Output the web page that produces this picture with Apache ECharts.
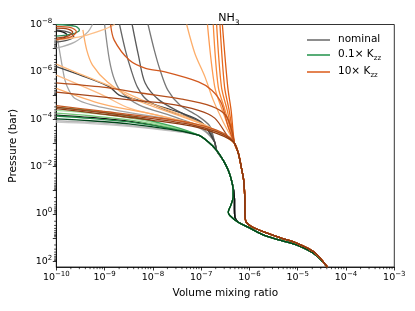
<!DOCTYPE html>
<html><head><meta charset="utf-8">
<script src="https://cdn.jsdelivr.net/npm/echarts@6/dist/echarts.min.js"></script>
<style>html,body{margin:0;padding:0;background:#fff}#c{width:415px;height:311px}</style>
</head><body><div id="c"></div>
<script>
// ---- axis ranges / ticks ----
const xMin = 1e-10, xMax = 1e-3;
const yMin = 1e-8, yMax = 170;
const xMajor = [1e-10,1e-9,1e-8,1e-7,1e-6,1e-5,1e-4,1e-3];
const yMajor = [1e-8,1e-7,1e-6,1e-5,1e-4,1e-3,1e-2,1e-1,1,10,100];
const yLabels = [1e-8,1e-6,1e-4,1e-2,1,100];
const minorSubs = [2,3,4,5,6,7,8,9];
const xDecades = [1e-10,1e-9,1e-8,1e-7,1e-6,1e-5,1e-4];
const yDecades = [1e-8,1e-7,1e-6,1e-5,1e-4,1e-3,1e-2,1e-1,1,10,100];

// ---- shared deep profiles [vmr, pressure(bar)] ----
const greenDeep = [[8.8e-8,4.68e-4],[1.41e-7,9.1e-4],[2.09e-7,2.04e-3],[2.87e-7,5.37e-3],[3.64e-7,0.0141],[4.25e-7,0.0376],[4.6e-7,0.1],[4.6e-7,0.19],[4.11e-7,0.427],[3.64e-7,0.82],[3.92e-7,1.14],[5.83e-7,2.19],[9.35e-7,3.55],[2.05e-6,7.94],[4.5e-6,12.9],[1e-5,20.9],[2.18e-5,47.3],[4.1e-5,170]];
const nomMid = [[8.8e-8,4.68e-4],[1.41e-7,9.1e-4]];
const nomJoin = [[1.9e-7,9.0e-4]];
const nomDeep = [[2.09e-7,2.04e-3],[2.87e-7,5.37e-3],[3.64e-7,0.0141],[4.25e-7,0.0376],[4.7e-7,0.1],[4.9e-7,0.25],[4.9e-7,0.63],[5.0e-7,1.35],[5.6e-7,2.0],[7.4e-7,2.8],[9.35e-7,3.55],[2.05e-6,7.94],[4.5e-6,12.9],[1e-5,20.9],[2.18e-5,47.3],[4.1e-5,170]];
const orangeDeep = [[4.9e-7,1.02e-3],[5.89e-7,2.69e-3],[6.76e-7,0.0102],[7.6e-7,0.0376],[8.0e-7,0.195],[8.1e-7,1.14],[8.6e-7,2.24],[1.1e-6,3.31],[2.05e-6,5.75],[4.52e-6,10.2],[1e-5,17.4],[2.18e-5,39.8],[4.1e-5,170]];

// ---- nominal (grey) upper parts ----
const nomA = [[1e-10,1.32e-4],[5.01e-10,1.51e-4],[3.16e-9,2.0e-4],[2.51e-8,3.16e-4]];
const nomB = [[1e-10,1.15e-4],[5.01e-10,1.35e-4],[3.16e-9,1.82e-4],[2.51e-8,3.02e-4]];
const nomC = [[1e-10,6.6e-5],[5.01e-10,8.3e-5],[3.16e-9,1.2e-4],[2.51e-8,2.45e-4]];
const nomD = [[1e-10,6.03e-7],[3.55e-10,1.51e-6],[1.26e-9,4.27e-6],[2.0e-9,9.55e-6],[3.72e-9,1.32e-5],[9.8e-9,2.29e-5],[3.98e-8,5.5e-5],[1.02e-7,1.32e-4]];
const nomE = [[1.07e-10,4.57e-8],[1.26e-10,3.16e-7],[1.51e-10,2.24e-6],[1.82e-10,5.89e-6],[2.4e-10,1.29e-5],[5.62e-10,2.51e-5],[3.72e-9,5.5e-5],[3.98e-8,1.2e-4],[1.1e-7,2.88e-4]];
const nomF = [[1.0e-9,1e-8],[1.26e-9,3.16e-7],[1.62e-9,2.24e-6],[2.34e-9,7.94e-6],[5.25e-9,2.51e-5],[2.51e-8,7.41e-5],[1.0e-7,2.2e-4]];
const nomG = [[2.04e-9,1e-8],[2.69e-9,1.2e-7],[3.55e-9,8.32e-7],[4.79e-9,4.37e-6],[7.59e-9,1.55e-5],[1.95e-8,4.17e-5],[8.13e-8,1.1e-4],[1.45e-7,2.6e-4]];
const nomH = [[3.72e-9,1e-8],[5.01e-9,1.95e-7],[6.92e-9,2.95e-6],[1.35e-8,1.55e-5],[3.98e-8,5.5e-5],[1.2e-7,1.9e-4]];
const nomI = [[7.94e-9,1e-8],[1.07e-8,1.2e-7],[1.41e-8,8.32e-7],[2.04e-8,5.89e-6],[3.63e-8,2.51e-5],[8.13e-8,6.76e-5],[1.5e-7,1.9e-4]];
const nomTopLeft = [[5.62e-10,1e-8],[4.47e-10,2.09e-8],[2.4e-10,5.5e-8],[1e-10,1e-7]];
const nomLoopGrey = [[1e-10,1.7e-8],[1.9e-10,2.2e-8],[2.3e-10,3.2e-8],[1.7e-10,4.6e-8],[1e-10,5.5e-8]];
const nomLoopBlack = [[1e-10,1.86e-8],[1.38e-10,2.09e-8],[1.66e-10,2.75e-8],[1.38e-10,3.72e-8],[1e-10,4.57e-8]];

// ---- 0.1x Kzz (green) upper parts ----
const grnA = [[1e-10,9.55e-5],[5.01e-10,1.15e-4],[3.16e-9,1.55e-4],[2.51e-8,2.75e-4]];
const grnB = [[1e-10,7.24e-5],[5.01e-10,9.12e-5],[3.16e-9,1.29e-4],[2.51e-8,2.51e-4]];
const grnC = [[1e-10,5.5e-5],[5.01e-10,7.08e-5],[3.16e-9,1.05e-4],[2.51e-8,2.34e-4]];
const grnD = [[1e-10,4.17e-5],[5.01e-10,5.5e-5],[3.16e-9,8.7e-5],[2.51e-8,2.14e-4]];
const grnE = [[1e-10,3.16e-5],[5.01e-10,4.27e-5],[3.16e-9,7.24e-5],[2.51e-8,1.95e-4]];
const grnLoop = [[1e-10,1e-8],[2.51e-10,1.2e-8],[3.02e-10,1.7e-8],[2.19e-10,2.51e-8],[1e-10,3.09e-8]];

// ---- 10x Kzz (orange) upper parts ----
const orgFan1 = [[5.01e-8,1e-8],[7.41e-8,1.66e-7],[1.2e-7,1.62e-6],[1.78e-7,1.55e-5],[2.88e-7,1.32e-4]];
const orgFan2 = [[1.35e-7,1e-8],[1.91e-7,4.27e-6],[2.75e-7,4.17e-5]];
const orgFan3 = [[1.78e-7,1e-8],[2.26e-7,4.27e-6],[3.13e-7,4.17e-5]];
const orgFan4 = [[2.09e-7,1e-8],[2.63e-7,4.27e-6],[3.47e-7,4.17e-5]];
const orgFan5 = [[2.45e-7,1e-8],[3.05e-7,4.27e-6],[3.8e-7,4.17e-5]];
const orgFan6 = [[2.75e-7,1e-8],[3.55e-7,4.27e-6],[4.17e-7,4.17e-5]];
const orgH1 = [[1.33e-9,1e-8],[1.58e-9,4.57e-8],[3.24e-9,3.16e-7],[7.08e-9,7.08e-7],[1.78e-8,1e-6],[8.8e-8,2.63e-6],[1.66e-7,5.89e-6],[2.63e-7,2.09e-5],[3.63e-7,2.09e-4]];
const orgH2 = [[1e-10,2.88e-6],[9.12e-10,4.37e-6],[6.03e-9,7.94e-6],[3.98e-8,1.41e-5],[1.66e-7,2.82e-5],[3.24e-7,6.76e-5],[4.27e-7,2.88e-4]];
const orgH3 = [[1e-10,7.08e-6],[3.72e-9,1.55e-5],[1.82e-8,2.14e-5],[8.8e-8,4.17e-5],[1.91e-7,8.91e-5],[3.63e-7,5.5e-4]];
const orgB1 = [[1e-10,2.63e-5],[9.12e-10,4.57e-5],[9.8e-9,8.13e-5],[6.46e-8,1.45e-4],[2.09e-7,2.88e-4],[3.89e-7,5.75e-4]];
const orgB2 = [[1e-10,3.09e-5],[9.12e-10,5.25e-5],[9.8e-9,9.33e-5],[6.46e-8,1.7e-4],[2.09e-7,3.31e-4],[3.89e-7,6.31e-4]];
const orgB3 = [[1e-10,3.55e-5],[9.12e-10,6.03e-5],[9.8e-9,1.1e-4],[6.46e-8,1.95e-4],[2.09e-7,3.89e-4],[3.89e-7,6.92e-4]];
const orgL1 = [[1e-10,1.38e-6],[9.12e-10,9.55e-6],[3.24e-9,3.39e-5],[1.55e-8,7.41e-5],[8.13e-8,1.62e-4],[2.4e-7,3.55e-4]];
const orgL2 = [[1e-10,4.9e-6],[9.12e-10,2.29e-5],[9.8e-9,6.03e-5],[8.13e-8,1.78e-4],[2.63e-7,4.27e-4]];
const orgL3 = [[3.55e-10,1.7e-8],[4.27e-10,1.2e-7],[5.62e-10,5.13e-7],[1.15e-9,2.69e-6],[3.72e-9,1.29e-5],[2.51e-8,5.5e-5],[1.29e-7,1.95e-4]];
const orgL5 = [[1e-10,4.68e-7],[3.55e-10,1.38e-6],[1.7e-9,4.9e-6],[6.03e-9,1.55e-5],[3.98e-8,6.76e-5],[1.66e-7,2.4e-4]];
const orgTopLeft = [[1.62e-9,1e-8],[9.12e-10,1.7e-8],[3.55e-10,3.09e-8],[1e-10,4.57e-8]];
const orgLoop1 = [[1e-10,1.41e-8],[1.74e-10,1.55e-8],[2.19e-10,2.09e-8],[1.74e-10,3.09e-8],[1e-10,3.72e-8]];
const orgLoop2 = [[1e-10,1.2e-8],[2.0e-10,1.35e-8],[2.6e-10,2.0e-8],[2.0e-10,3.3e-8],[1e-10,4.2e-8]];

const legendNames = ['nominal','0.1× Kzz','10× Kzz'];
const legendColors = ['#707070','#2e9955','#de6426'];

function mk(data, color, w) {
  return {type:'line', data:data, showSymbol:false, symbol:'none', smooth:0.3, clip:true,
    lineStyle:{color:color, width:w||1.3}, itemStyle:{color:color}, silent:true, animation:false};
}
const series = [];
series.push(mk(nomA.concat(nomMid, nomDeep), '#c8c8c8'));
series.push(mk(nomB.concat(nomMid, nomDeep), '#b8b8b8'));
series.push(mk(nomE.concat(nomJoin, nomDeep), '#a6a6a6'));
series.push(mk(nomTopLeft, '#b0b0b0'));
series.push(mk(nomF.concat(nomJoin, nomDeep), '#8a8a8a'));
series.push(mk(nomI.concat(nomJoin, nomDeep), '#767676'));
series.push(mk(nomG.concat(nomJoin, nomDeep), '#666666'));
series.push(mk(nomH.concat(nomJoin, nomDeep), '#5a5a5a'));
series.push(mk(nomD.concat(nomJoin, nomDeep), '#444444'));
series.push(mk(nomLoopGrey, '#555555'));
series.push(mk(nomLoopBlack, '#1a1a1a'));
series.push(mk(nomC.concat(nomMid, nomDeep), '#111111'));
series.push(mk(grnD.concat(greenDeep), '#a1d99b'));
series.push(mk(grnC.concat(greenDeep), '#74c476'));
series.push(mk(grnE.concat(greenDeep), '#41ab5d'));
series.push(mk(grnB.concat(greenDeep), '#238b45'));
series.push(mk(grnA.concat(greenDeep), '#00441b'));
series.push(mk(grnLoop, '#2e8b57'));
series.push(mk(orgTopLeft, '#fdc08a'));
series.push(mk(orgL1.concat(orangeDeep), '#fdbb84'));
series.push(mk(orgL2.concat(orangeDeep), '#fdae6b'));
series.push(mk(orgL3.concat(orangeDeep), '#fdae6b'));
series.push(mk(orgL5.concat(orangeDeep), '#fdb677'));
series.push(mk(orgFan1.concat(orangeDeep), '#fdae6b'));
series.push(mk(orgFan2.concat(orangeDeep), '#fd9a50'));
series.push(mk(orgFan3.concat(orangeDeep), '#f88a3a'));
series.push(mk(orgFan4.concat(orangeDeep), '#f07a2a'));
series.push(mk(orgFan5.concat(orangeDeep), '#e8691c'));
series.push(mk(orgFan6.concat(orangeDeep), '#de5d14'));
series.push(mk(orgH1.concat(orangeDeep), '#d2591f'));
series.push(mk(orgH2.concat(orangeDeep), '#b54f1c'));
series.push(mk(orgH3.concat(orangeDeep), '#a5461a'));
series.push(mk(orgB1.concat(orangeDeep), '#c55a22'));
series.push(mk(orgB2.concat(orangeDeep), '#9a4218'));
series.push(mk(orgLoop2, '#d2591f'));
series.push(mk(orgLoop1, '#a5461a'));
series.push(mk(orgB3.concat(orangeDeep), '#8a3a12'));
legendNames.forEach(function(n,i){
  series.push({type:'line', name:n, data:[], lineStyle:{color:legendColors[i], width:1.5}, itemStyle:{color:legendColors[i]}, color:legendColors[i]});
});
// minor ticks (drawn through the axes' scales)
const xMinor = [], yMinor = [];
xDecades.forEach(function(d){ minorSubs.forEach(function(s){ xMinor.push([s*d, yMax]); }); });
yDecades.forEach(function(d){ minorSubs.forEach(function(s){ if (s*d < yMax) yMinor.push([xMin, s*d]); }); });
series.push({type:'custom', data:xMinor, clip:false, silent:true, z:10, renderItem:function(p, api){
  const c = api.coord([api.value(0), api.value(1)]);
  return {type:'line', shape:{x1:c[0], y1:c[1], x2:c[0], y2:c[1]+2.2}, style:{stroke:'#000', lineWidth:0.7}};
}});
series.push({type:'custom', data:yMinor, clip:false, silent:true, z:10, renderItem:function(p, api){
  const c = api.coord([api.value(0), api.value(1)]);
  return {type:'line', shape:{x1:c[0], y1:c[1], x2:c[0]-2.2, y2:c[1]}, style:{stroke:'#000', lineWidth:0.7}};
}});

function expLabel(v) {
  const r = Math.round(Math.log10(v));
  return '{b|10}{s|' + (r < 0 ? '\u2212' + (-r) : r) + '}';
}
const labRich = {
  b:{fontFamily:'DejaVu Sans', fontSize:9.5, lineHeight:9.5, color:'#000', verticalAlign:'bottom'},
  s:{fontFamily:'DejaVu Sans', fontSize:7, lineHeight:7, color:'#000', padding:[0,0,5,0], verticalAlign:'bottom'}
};

const chart = echarts.init(document.getElementById('c'), null, {renderer:'canvas'});
chart.setOption({
  animation:false,
  backgroundColor:'#fff',
  title:{text:'{b|NH}{s|3}', left:224, top:8, textAlign:'center',
    textStyle:{fontWeight:'normal', rich:{
      b:{fontFamily:'DejaVu Sans', fontSize:11, fontWeight:'normal', lineHeight:11, color:'#000', verticalAlign:'top'},
      s:{fontFamily:'DejaVu Sans', fontSize:7.5, fontWeight:'normal', lineHeight:7.5, color:'#000', padding:[6,0,0,0], verticalAlign:'top'}}}},
  grid:{left:53.3, right:20.7, top:24.5, bottom:44, show:true, borderColor:'#000', borderWidth:0.8, backgroundColor:'transparent'},
  legend:{data:legendNames, orient:'vertical', left:307, top:34, padding:0, itemWidth:23, itemHeight:1.6, icon:'rect', itemGap:4,
    formatter:function(n){
      if (n === 'nominal') return '{a|nominal}';
      if (n === '0.1× Kzz') return '{a|0.1× K}{s|zz}';
      return '{a|10× K}{s|zz}';
    },
    textStyle:{rich:{
      a:{fontFamily:'DejaVu Sans', fontSize:10.5, lineHeight:12, color:'#000', verticalAlign:'top', padding:[0,0,0,3]},
      s:{fontFamily:'DejaVu Sans', fontSize:7, lineHeight:7, color:'#000', padding:[6,0,0,0], verticalAlign:'top'}}}},
  xAxis:{type:'log', min:xMin, max:xMax,
    name:'Volume mixing ratio', nameLocation:'middle', nameGap:20,
    nameTextStyle:{fontFamily:'DejaVu Sans', fontSize:10.5, color:'#000'},
    axisLine:{lineStyle:{color:'#000', width:0.8}},
    axisTick:{show:true, inside:false, length:3.5, customValues:xMajor, lineStyle:{color:'#000', width:0.8}},
    axisLabel:{margin:6, customValues:xMajor, formatter:function(v){return expLabel(v);}, rich:labRich},
    splitLine:{show:false}},
  yAxis:{type:'log', min:yMin, max:yMax, inverse:true,
    name:'Pressure (bar)', nameLocation:'middle', nameGap:31, nameRotate:90,
    nameTextStyle:{fontFamily:'DejaVu Sans', fontSize:10.5, color:'#000'},
    axisLine:{lineStyle:{color:'#000', width:0.8}},
    axisTick:{show:true, inside:false, length:3.5, customValues:yMajor, lineStyle:{color:'#000', width:0.8}},
    axisLabel:{margin:4, customValues:yLabels, formatter:function(v){return expLabel(v);}, rich:labRich},
    splitLine:{show:false}},
  series:series
});
</script>
</body></html>
